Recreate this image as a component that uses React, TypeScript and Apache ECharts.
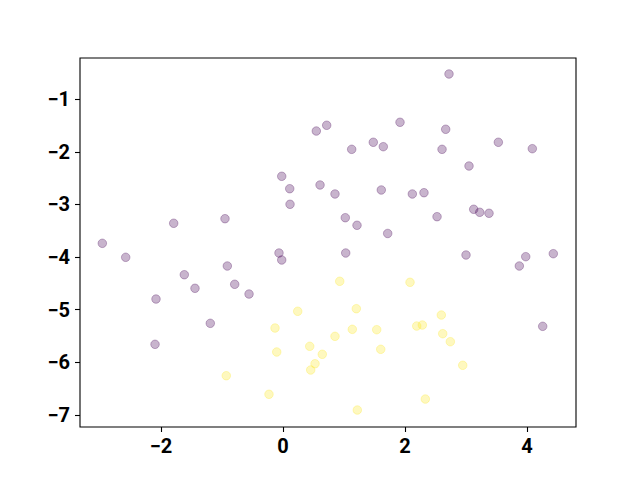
import React, { useEffect, useRef } from "react";
import * as echarts from "echarts";

const purpleX = [-2.962, -2.579, -1.792, -0.951, -1.618, -0.913, -1.443, -0.792, -2.082, -1.192, -2.098, 0.546, 0.716, 1.918, 1.126, 1.48, 1.644, -0.021, 0.11, 0.607, 0.852, 1.611, 0.115, 1.021, 1.213, 1.716, -0.066, -0.021, 1.028, -0.557, 2.721, 2.667, 3.53, 4.087, 2.607, 3.049, 2.12, 2.311, 2.525, 3.126, 3.225, 3.377, 3.0, 3.979, 3.874, 4.431, 4.257];
const purpleY = [-3.738, -4.004, -3.357, -3.27, -4.335, -4.169, -4.593, -4.517, -4.797, -5.259, -5.658, -1.603, -1.494, -1.437, -1.951, -1.817, -1.901, -2.464, -2.7, -2.629, -2.8, -2.724, -2.996, -3.251, -3.395, -3.551, -3.922, -4.055, -3.922, -4.702, -0.519, -1.57, -1.817, -1.939, -1.951, -2.268, -2.8, -2.776, -3.232, -3.091, -3.148, -3.167, -3.96, -3.992, -4.169, -3.935, -5.316];
const yellowX = [-0.93, 0.93, 1.202, 0.241, -0.131, 1.136, 1.536, 0.852, 0.438, 1.602, -0.103, 0.644, 0.525, 0.454, -0.23, 1.218, 2.082, 2.595, 2.192, 2.284, 2.618, 2.743, 2.946, 2.333];
const yellowY = [-6.255, -4.46, -4.981, -5.03, -5.348, -5.373, -5.38, -5.506, -5.696, -5.753, -5.804, -5.848, -6.027, -6.146, -6.608, -6.907, -4.479, -5.101, -5.31, -5.291, -5.456, -5.608, -6.057, -6.698];
const xTicks = [-2, 0, 2, 4];
const yTicks = [-7, -6, -5, -4, -3, -2, -1];

const labelStyle = {
  color: "#000",
  fontFamily: "Roboto",
  fontWeight: "bold" as const,
  fontSize: 20,
};

const fmt = (v: number) => String(v).replace("-", "\u2212");

export default function App() {
  const ref = useRef<HTMLDivElement>(null);
  useEffect(() => {
    if (!ref.current) return;
    const chart = echarts.init(ref.current, undefined, { renderer: "svg" });
    const toPairs = (xs: number[], ys: number[]) => xs.map((x, i) => [x, ys[i]]);
    chart.setOption({
      animation: false,
      backgroundColor: "#fff",
      grid: {
        left: 80,
        right: 64,
        top: 58,
        bottom: 53,
        show: true,
        borderColor: "#000",
        borderWidth: 1.1,
        backgroundColor: "transparent",
      },
      xAxis: {
        type: "value",
        min: -3.328,
        max: 4.803,
        position: "bottom",
        splitLine: { show: false },
        axisLine: { show: false, onZero: false },
        axisTick: {
          show: true,
          customValues: xTicks,
          length: 5,
          lineStyle: { color: "#000", width: 1.1 },
        },
        axisLabel: { ...labelStyle, customValues: xTicks, margin: 9, formatter: fmt },
      },
      yAxis: {
        type: "value",
        min: -7.23,
        max: -0.215,
        position: "left",
        splitLine: { show: false },
        axisLine: { show: false, onZero: false },
        axisTick: {
          show: true,
          customValues: yTicks,
          length: 5,
          lineStyle: { color: "#000", width: 1.1 },
        },
        axisLabel: { ...labelStyle, customValues: yTicks, margin: 10, formatter: fmt },
      },
      series: [
        {
          type: "scatter",
          data: toPairs(purpleX, purpleY),
          symbolSize: 8.5,
          itemStyle: {
            color: "rgba(68,1,84,0.37)",
            borderColor: "rgba(68,1,84,0.37)",
            borderWidth: 1,
          },
        },
        {
          type: "scatter",
          data: toPairs(yellowX, yellowY),
          symbolSize: 8.5,
          itemStyle: {
            color: "rgba(253,231,37,0.37)",
            borderColor: "rgba(253,231,37,0.37)",
            borderWidth: 1,
          },
        },
      ],
    });
    return () => chart.dispose();
  }, []);
  return (
    <div
      ref={ref}
      style={{ position: "fixed", left: 0, top: 0, width: 640, height: 480 }}
    />
  );
}
